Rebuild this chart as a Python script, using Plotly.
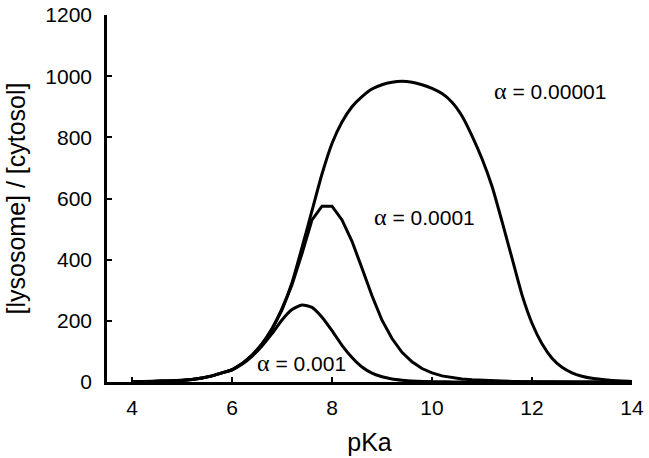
import plotly.graph_objects as go

pka = [4.0, 4.2, 4.4, 4.6, 4.8, 5.0, 5.2, 5.4, 5.6, 5.8, 6.0, 6.2, 6.4, 6.6, 6.8, 7.0,
       7.2, 7.4, 7.6, 7.8, 8.0, 8.2, 8.4, 8.6, 8.8, 9.0, 9.2, 9.4, 9.6, 9.8, 10.0,
       10.2, 10.4, 10.6, 10.8, 11.0, 11.2, 11.4, 11.6, 11.8, 12.0, 12.2, 12.4, 12.6,
       12.8, 13.0, 13.2, 13.4, 13.6, 13.8, 14.0]

ratio_a5 = [1, 1, 2, 3, 4, 5, 8, 13, 20, 30, 40, 60, 88, 125, 175, 240,
            325, 440, 560, 680, 780, 850, 900, 933, 958, 972, 980, 983, 980, 972, 960,
            943, 915, 870, 805, 730, 640, 525, 405, 285, 192, 125, 78, 48,
            30, 19, 12, 8, 5, 3, 2]

ratio_a4 = [1, 1, 2, 3, 4, 5, 8, 13, 20, 30, 40, 60, 87, 123, 172, 236,
            318, 420, 530, 575, 575, 530, 460, 372, 282, 202, 142, 97, 66, 44, 30,
            20, 14, 10, 7, 5, 4, 3, 2, 1, 1, 1, 1, 0,
            0, 0, 0, 0, 0, 0, 0]

ratio_a3 = [1, 1, 2, 3, 4, 5, 8, 13, 20, 30, 40, 58, 84, 118, 158, 203,
            237, 252, 244, 212, 168, 120, 80, 49, 29, 17, 10, 6, 3, 2, 1,
            1, 0, 0, 0, 0, 0, 0, 0, 0, 0, 0, 0, 0,
            0, 0, 0, 0, 0, 0, 0]

series = [("α = 0.00001", ratio_a5, "spline"), ("α = 0.0001", ratio_a4, "linear"),
          ("α = 0.001", ratio_a3, "spline")]

labels = [("α", " = 0.00001", 12.36, 951), ("α", " = 0.0001", 9.84, 538), ("α", " = 0.001", 7.38, 62)]

fig = go.Figure()
for name, vals, shape in series:
    fig.add_trace(go.Scatter(x=pka, y=vals, mode="lines", name=name,
                             line=dict(color="black", width=3, shape=shape, smoothing=0.6),
                             showlegend=False))

for a, rest, xv, yv in labels:
    fig.add_annotation(x=xv, y=yv, xref="x", yref="y", xanchor="center", yanchor="middle",
                       text='<span style="font-family:\'Liberation Serif\'; font-size:24px">' + a + '</span>' + rest,
                       showarrow=False, font=dict(family="Liberation Sans, Arial", size=21, color="black"))

fig.update_layout(
    width=649, height=458,
    margin=dict(l=107, r=17, t=15, b=76),
    paper_bgcolor="white", plot_bgcolor="white",
    font=dict(family="Liberation Sans, Arial", size=21, color="black"),
)
fig.update_xaxes(range=[3.5, 14], tickvals=[4, 6, 8, 10, 12, 14], ticktext=["4", "6", "8", "10", "12", "14"],
                 ticks="inside", ticklen=5, tickwidth=2, tickcolor="black", automargin=False,
                 showline=True, linecolor="black", linewidth=2.5, showgrid=False, zeroline=False,
                 title=dict(text="pKa", standoff=16), ticklabelstandoff=5)
fig.update_yaxes(range=[0, 1200], tickvals=[0, 200, 400, 600, 800, 1000, 1200],
                 ticks="inside", ticklen=5, tickwidth=2, tickcolor="black", automargin=False,
                 showline=True, linecolor="black", linewidth=2.5, showgrid=False, zeroline=False,
                 title=dict(text="[lysosome] / [cytosol]", standoff=13), ticklabelstandoff=8)

fig.write_html("out.html", config={"displayModeBar": False},
               post_script="document.body.style.margin='0';")
